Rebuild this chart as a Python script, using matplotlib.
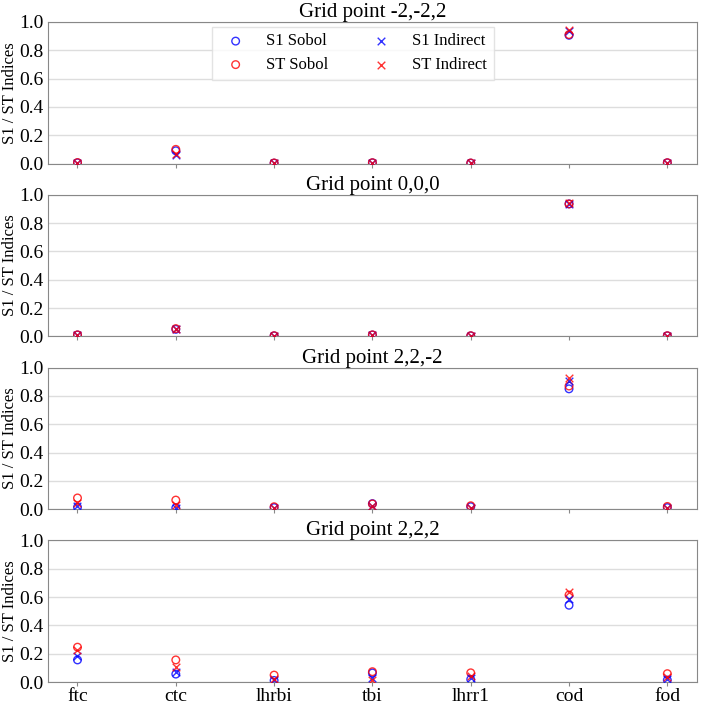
import matplotlib
matplotlib.use('Agg')
import matplotlib.pyplot as plt
import numpy as np

plt.rcParams['font.family'] = ['Liberation Serif', 'DejaVu Serif']

params = ['ftc', 'ctc', 'lhrbi', 'tbi', 'lhrr1', 'cod', 'fod']
grid_points = ['-2,-2,2', '0,0,0', '2,2,-2', '2,2,2']

# indices per grid point, order follows params
s1_sobol = [
    [0.005, 0.090, 0.003, 0.005, 0.003, 0.905, 0.005],
    [0.010, 0.050, 0.004, 0.010, 0.004, 0.935, 0.004],
    [0.015, 0.010, 0.012, 0.040, 0.018, 0.850, 0.012],
    [0.157, 0.057, 0.012, 0.065, 0.020, 0.543, 0.015],
]
st_sobol = [
    [0.007, 0.100, 0.004, 0.006, 0.004, 0.910, 0.006],
    [0.011, 0.055, 0.005, 0.011, 0.005, 0.935, 0.005],
    [0.080, 0.065, 0.018, 0.038, 0.025, 0.870, 0.020],
    [0.247, 0.157, 0.050, 0.074, 0.066, 0.615, 0.060],
]
s1_indirect = [
    [0.004, 0.060, 0.002, 0.004, 0.002, 0.935, 0.004],
    [0.009, 0.050, 0.003, 0.009, 0.003, 0.935, 0.004],
    [0.025, 0.012, 0.008, 0.025, 0.010, 0.905, 0.006],
    [0.186, 0.074, 0.015, 0.030, 0.030, 0.590, 0.025],
]
st_indirect = [
    [0.005, 0.065, 0.003, 0.005, 0.003, 0.945, 0.005],
    [0.010, 0.055, 0.004, 0.010, 0.004, 0.940, 0.005],
    [0.045, 0.030, 0.010, 0.020, 0.012, 0.925, 0.008],
    [0.224, 0.105, 0.020, 0.018, 0.045, 0.633, 0.040],
]

x = np.arange(len(params))

fig, axes = plt.subplots(4, 1, figsize=(7.06, 7.04), dpi=100, sharex=True)
fig.subplots_adjust(left=0.068, right=0.987, top=0.969, bottom=0.031, hspace=0.22)

for i, ax in enumerate(axes):
    ax.scatter(x, s1_sobol[i], s=30, facecolors='none', edgecolors='blue',
               linewidths=1, alpha=0.8, label='S1 Sobol', zorder=3)
    ax.scatter(x, st_sobol[i], s=30, facecolors='none', edgecolors='red',
               linewidths=1, alpha=0.8, label='ST Sobol', zorder=3)
    ax.scatter(x, s1_indirect[i], s=30, marker='x', color='blue',
               linewidths=1, alpha=0.8, label='S1 Indirect', zorder=3)
    ax.scatter(x, st_indirect[i], s=30, marker='x', color='red',
               linewidths=1, alpha=0.8, label='ST Indirect', zorder=3)

    ax.set_ylim(0, 1.0)
    ax.set_yticks(np.arange(0, 1.01, 0.2))
    ax.set_title(f'Grid point {grid_points[i]}', fontsize=15, pad=2)
    ax.set_ylabel('S1 / ST Indices', fontsize=12, labelpad=1)
    ax.grid(True, axis='y', color='#dddddd', linewidth=1)
    ax.set_axisbelow(True)
    for sp in ax.spines.values():
        sp.set_color('#888888')
    ax.tick_params(axis='y', length=0, labelsize=14, pad=3)
    ax.tick_params(axis='x', length=3, color='#888888', labelsize=14, pad=1)

axes[-1].set_xticks(x)
axes[-1].set_xticklabels(params)

axes[0].legend(ncol=2, loc='upper center', bbox_to_anchor=(0.47, 1.0),
               fontsize=12, edgecolor='#dddddd', fancybox=False,
               columnspacing=2.15, handletextpad=0.85, labelspacing=0.45,
               borderaxespad=0.3)

plt.savefig('out.png', dpi=100)
plt.close()
